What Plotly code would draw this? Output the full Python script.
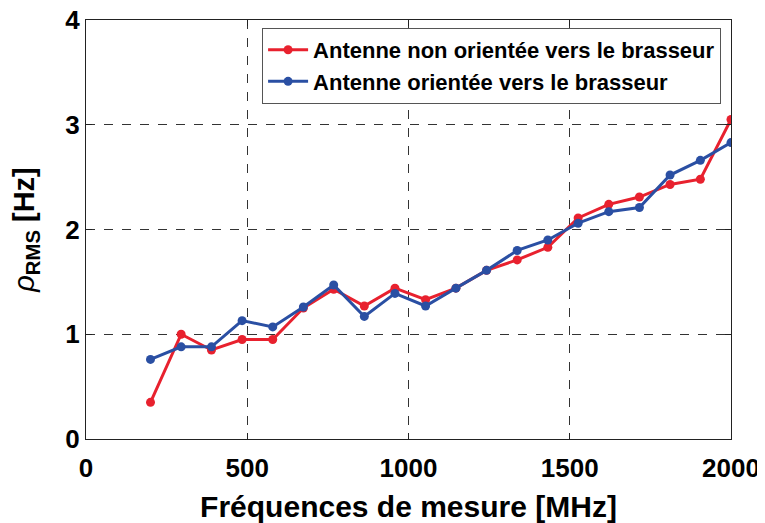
import plotly.graph_objects as go

freq_mhz = [200, 295, 389, 484, 579, 674, 768, 863, 958, 1053,
            1147, 1242, 1337, 1432, 1526, 1621, 1716, 1811, 1905, 2000]
rho_non_orientee = [0.35, 1.00, 0.85, 0.95, 0.95, 1.25, 1.43, 1.27, 1.44, 1.33,
                    1.44, 1.61, 1.71, 1.83, 2.11, 2.24, 2.31, 2.43, 2.48, 3.05]
rho_orientee = [0.76, 0.88, 0.88, 1.13, 1.07, 1.26, 1.47, 1.17, 1.39, 1.27,
                1.44, 1.61, 1.80, 1.90, 2.06, 2.17, 2.21, 2.52, 2.66, 2.83]
x_ticks = [0, 500, 1000, 1500, 2000]
y_ticks = [0, 1, 2, 3, 4]
names = ["Antenne non orientée vers le brasseur", "Antenne orientée vers le brasseur"]

RED = "#e8212e"
BLUE = "#2a4fa3"

fig = go.Figure()
fig.add_trace(go.Scatter(x=freq_mhz, y=rho_non_orientee, mode="lines+markers",
                         name="<b>%s</b>" % names[0],
                         line=dict(color=RED, width=3), marker=dict(size=9, color=RED)))
fig.add_trace(go.Scatter(x=freq_mhz, y=rho_orientee, mode="lines+markers",
                         name="<b>%s</b>" % names[1],
                         line=dict(color=BLUE, width=3), marker=dict(size=9, color=BLUE)))

FONT = "Liberation Sans, Arial"
tick_font = dict(family=FONT, size=26, color="black")
axis_common = dict(showline=True, linecolor="#222", linewidth=1, mirror="ticks",
                   ticks="inside", ticklen=6, tickcolor="#222",
                   showgrid=True, gridcolor="#333", gridwidth=1, griddash="dash",
                   zeroline=False, automargin=False, ticklabeloverflow="allow")

# the page body has an 8px default margin, so the figure is 8px smaller
fig.update_layout(
    width=757, height=515,
    margin=dict(l=78, r=34, t=12, b=84),
    paper_bgcolor="white", plot_bgcolor="white",
    font=dict(family=FONT, color="black"),
    showlegend=True,
    legend=dict(x=0.273, y=0.981, xanchor="left", yanchor="top",
                bgcolor="white", bordercolor="#555", borderwidth=1,
                font=dict(family=FONT, size=22, color="black"),
                tracegroupgap=0, itemwidth=40),
    xaxis=dict(range=[0, 2000], tickvals=x_ticks,
               ticktext=["<b>%d</b>" % v for v in x_ticks],
               tickfont=tick_font, ticklabelstandoff=6,
               title=dict(text="<b>Fréquences de mesure [MHz]</b>",
                          font=dict(family=FONT, size=30),
                          standoff=14),
               **axis_common),
    yaxis=dict(range=[0, 4], tickvals=y_ticks,
               ticktext=["<b>%d</b>" % v for v in y_ticks],
               tickfont=tick_font,
               title=dict(text="<i>ρ</i><b><sub>RMS</sub> [Hz]</b>",
                          font=dict(family=FONT, size=29),
                          standoff=22),
               **axis_common),
)

fig.write_html("out.html")
